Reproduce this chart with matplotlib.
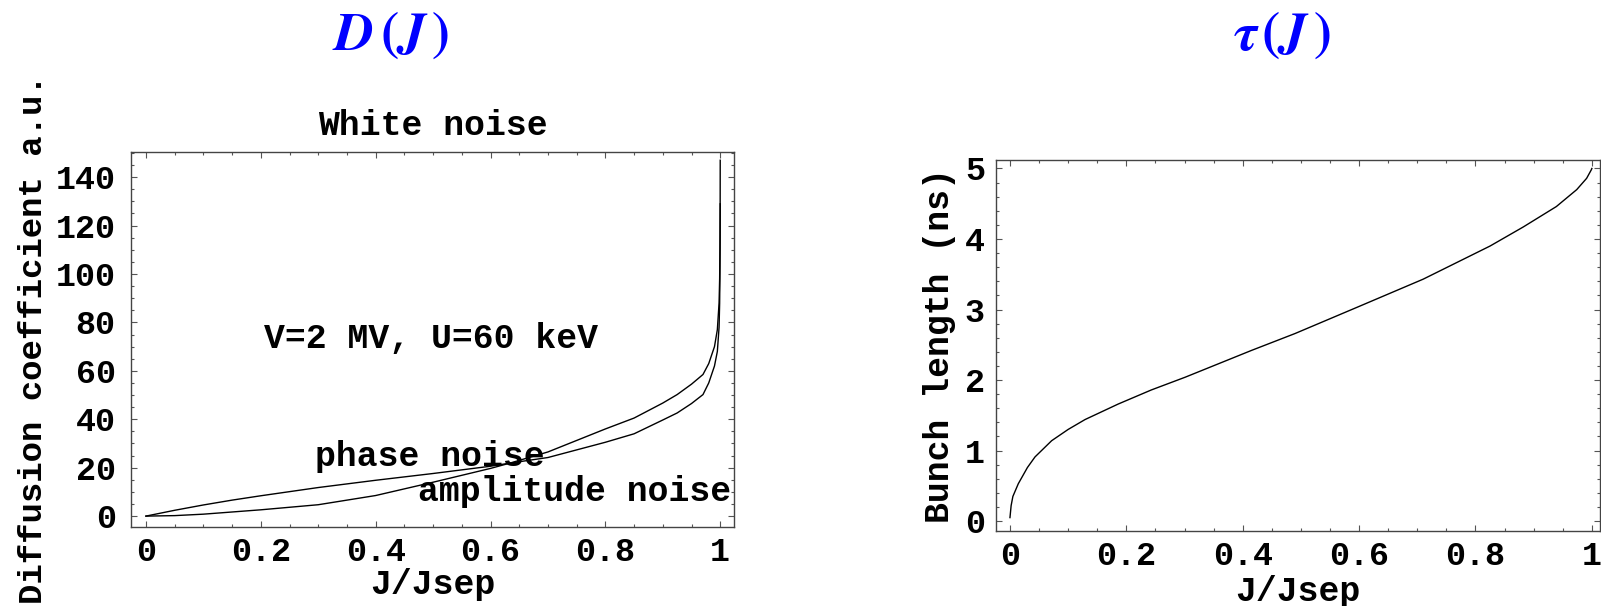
import matplotlib
matplotlib.use("Agg")
import matplotlib.pyplot as plt
from matplotlib.ticker import MultipleLocator
from matplotlib.font_manager import FontProperties

plt.rcParams['mathtext.fontset'] = 'stix'

# Diffusion coefficient vs J/Jsep
j_diff = [0, 0.05, 0.1, 0.15, 0.2, 0.3, 0.4, 0.5, 0.6, 0.634, 0.7, 0.8, 0.85, 0.9,
          0.925, 0.95, 0.97, 0.98, 0.99, 0.995, 0.998, 0.999, 0.9995, 0.9999, 1.0]
d_phase = [0, 2.4, 4.6, 6.6, 8.4, 11.8, 14.8, 17.6, 20.6, 21.9, 24.2, 30.5, 34, 39.7,
           42.6, 46.5, 50.2, 55, 62, 68, 78, 88, 100, 115, 129]
d_ampl = [0, 0.2, 0.8, 1.7, 2.6, 4.7, 8.5, 14.0, 19.7, 21.9, 26.5, 36, 40.5, 46.7,
          50.2, 54.5, 58.5, 63, 70, 77, 88, 98, 110, 130, 147]

# Bunch length vs J/Jsep
j_tau = [0, 0.002, 0.005, 0.0143, 0.03, 0.043, 0.0716, 0.1, 0.129, 0.186, 0.243,
         0.301, 0.358, 0.415, 0.49, 0.596, 0.71, 0.825, 0.882, 0.939, 0.974,
         0.991, 0.995, 0.999, 1.0]
tau = [0.05, 0.22, 0.35, 0.53, 0.76, 0.91, 1.14, 1.3, 1.44, 1.66, 1.86,
       2.04, 2.23, 2.42, 2.66, 3.03, 3.43, 3.90, 4.17, 4.46, 4.70,
       4.86, 4.92, 4.98, 5.0]

xticks = [0, 0.2, 0.4, 0.6, 0.8, 1.0]
xticklabels = ['%g' % v for v in xticks]

W, H = 1601, 606
font = dict(family='Liberation Mono', weight='bold', size=25)
tickfont = FontProperties(family='Liberation Mono', weight='bold', size=24)

fig = plt.figure(figsize=(W / 100, H / 100), dpi=100)


def box(l, t, r, b):
    return [l / W, 1 - b / H, (r - l) / W, (b - t) / H]


def style(ax, xminor, yminor, ypad):
    ax.xaxis.set_minor_locator(MultipleLocator(xminor))
    ax.yaxis.set_minor_locator(MultipleLocator(yminor))
    ax.tick_params(which='both', direction='in', top=True, right=True,
                   color='#555555', width=0.8)
    ax.tick_params(which='major', length=4.5)
    ax.tick_params(which='minor', length=2.5)
    ax.tick_params(axis='x', pad=7)
    ax.tick_params(axis='y', pad=ypad)
    for s in ax.spines.values():
        s.set_color('#444444')
        s.set_linewidth(1.0)
    for lab in ax.get_xticklabels() + ax.get_yticklabels():
        lab.set_fontproperties(tickfont)


# left panel
ax1 = fig.add_axes(box(131, 152, 734, 527))
ax1.plot(j_diff, d_phase, color='black', lw=1.0)
ax1.plot(j_diff, d_ampl, color='black', lw=1.0)
ax1.set_xlim(-0.026, 1.024)
ax1.set_ylim(-4.5, 150.4)
ax1.set_xticks(xticks)
ax1.set_xticklabels(xticklabels)
ax1.set_yticks(range(0, 141, 20))
style(ax1, 0.05, 5, 11)
ax1.set_title('White noise', pad=12, **font)
ax1.set_xlabel('J/Jsep', va='center', **font)
ax1.xaxis.set_label_coords(0.5, -0.154)
ax1.set_ylabel('Diffusion coefficient a.u.', va='center', family='Liberation Mono',
               weight='bold', size=24.5)
ax1.yaxis.set_label_coords(-0.161, 0.5)
ax1.text(0.497, 73.5, 'V=2 MV, U=60 keV', ha='center', va='center', **font)
ax1.text(0.495, 24.5, 'phase noise', ha='center', va='center', **font)
ax1.text(0.746, 10.0, 'amplitude noise', ha='center', va='center', **font)

# right panel
ax2 = fig.add_axes(box(996, 160, 1600, 531))
ax2.plot(j_tau, tau, color='black', lw=1.0)
ax2.set_xlim(-0.024, 1.014)
ax2.set_ylim(-0.14, 5.12)
ax2.set_xticks(xticks)
ax2.set_xticklabels(xticklabels)
ax2.set_yticks(range(0, 6))
style(ax2, 0.05, 0.2, 8)
ax2.set_xlabel('J/Jsep', va='center', **font)
ax2.xaxis.set_label_coords(0.5, -0.163)
ax2.set_ylabel('Bunch length (ns)', va='center', **font)
ax2.yaxis.set_label_coords(-0.093, 0.5)

# blue headings
fig.text(391 / W, 1 - 35 / H,
         r'$\boldsymbol{D}\,\mathbf{(}\boldsymbol{J}\,\mathbf{)}$',
         color='#0000ff', fontsize=39, ha='center', va='center')
fig.text(1282 / W, 1 - 35 / H,
         r'$\boldsymbol{\tau}\,\mathbf{(}\boldsymbol{J}\,\mathbf{)}$',
         color='#0000ff', fontsize=39, ha='center', va='center')

fig.savefig('out.png', dpi=100)
